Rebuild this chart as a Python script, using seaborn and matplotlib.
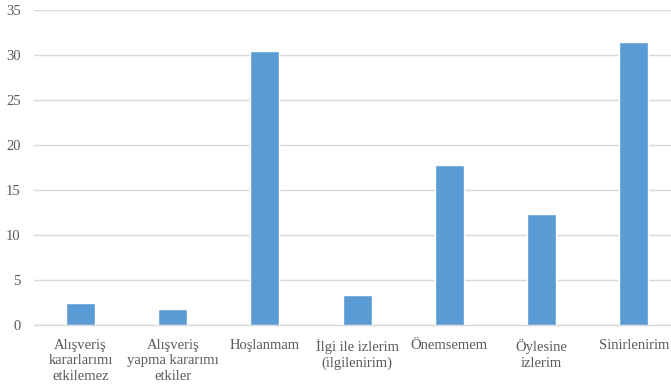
import matplotlib
matplotlib.use("Agg")
import matplotlib.pyplot as plt
import seaborn as sns
import pandas as pd

categories = ["Alışveriş\nkararlarımı\netkilemez", "Alışveriş\nyapma kararımı\netkiler", "Hoşlanmam",
              "İlgi ile izlerim\n(ilgilenirim)", "Önemsemem", "Öylesine\nizlerim", "Sinirlenirim"]
values = [2.5, 1.8, 30.4, 3.3, 17.8, 12.3, 31.4]
yticks = [0, 5, 10, 15, 20, 25, 30, 35]

sns.set_theme(style="white")
plt.rcParams['font.family'] = ['Liberation Serif', 'DejaVu Serif']

df = pd.DataFrame({"cat": categories, "val": values})
fig = plt.figure(figsize=(6.71, 3.85), dpi=100)
ax = fig.add_axes([34.4/671, 1-325/385, 645.5/671, 315/385])
sns.barplot(data=df, x="cat", y="val", color="#5B9BD5", width=0.315, saturation=1, ax=ax, zorder=3)
ax.set_ylim(0, 35)
ax.set_yticks(yticks)
ax.set_xlim(-0.5, 6.5)
ax.yaxis.grid(True, color="#D9D9D9", linewidth=1, zorder=0)
ax.set_axisbelow(True)
for s in ["top", "right", "left"]:
    ax.spines[s].set_visible(False)
ax.spines["bottom"].set_color("#D9D9D9")
ax.spines["bottom"].set_linewidth(1)
ax.set_xlabel("")
ax.set_ylabel("")
ax.tick_params(axis="both", length=0, labelsize=10.5, colors="#595959")
ax.tick_params(axis="x", pad=10)
ax.tick_params(axis="y", pad=10)
for lab in ax.get_xticklabels():
    lab.set_linespacing(1.25)
fig.savefig("out.png", dpi=100)
